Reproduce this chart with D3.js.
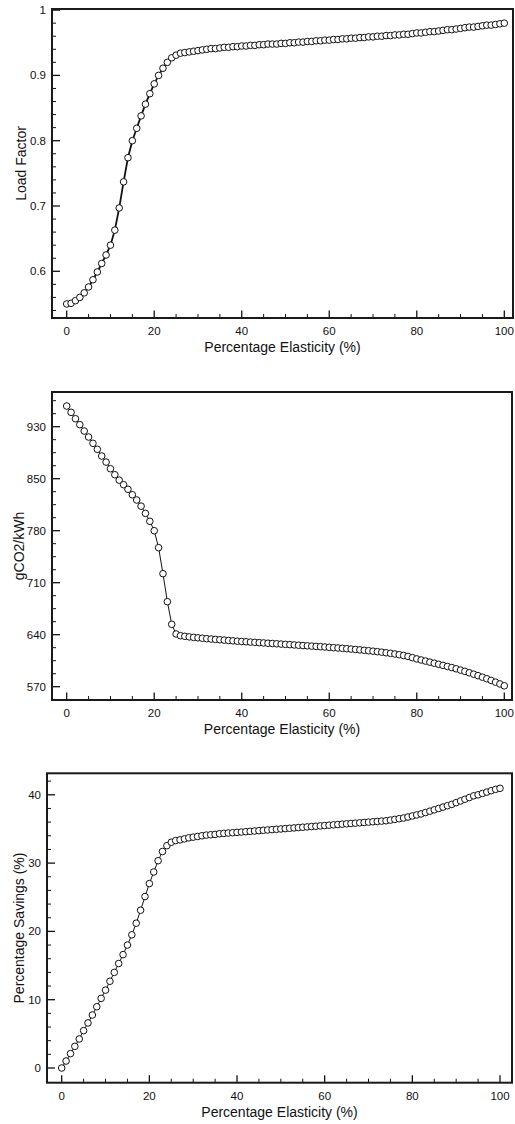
<!DOCTYPE html>
<html lang="en"><head>
<meta charset="utf-8">
<title>Elasticity charts</title>
<script src="https://cdn.jsdelivr.net/npm/d3@7"></script>
<style>
  body { margin: 0; background: #fff; }
  text { font-family: Helvetica, Arial, "Liberation Sans", sans-serif; fill: #111; }
</style>
</head>
<body>
<script type="text/javascript">

var width = 515;
var height = 1124;

// percentage elasticity (x axis, every panel)
var elasticity = [
  0, 1, 2, 3, 4, 5, 6, 7, 8, 9,
  10, 11, 12, 13, 14, 15, 16, 17, 18, 19,
  20, 21, 22, 23, 24, 25, 26, 27, 28, 29,
  30, 31, 32, 33, 34, 35, 36, 37, 38, 39,
  40, 41, 42, 43, 44, 45, 46, 47, 48, 49,
  50, 51, 52, 53, 54, 55, 56, 57, 58, 59,
  60, 61, 62, 63, 64, 65, 66, 67, 68, 69,
  70, 71, 72, 73, 74, 75, 76, 77, 78, 79,
  80, 81, 82, 83, 84, 85, 86, 87, 88, 89,
  90, 91, 92, 93, 94, 95, 96, 97, 98, 99,
  100
];

var loadFactor = [
  0.550, 0.551, 0.555, 0.560, 0.567, 0.576, 0.587, 0.599, 0.612, 0.625,
  0.640, 0.663, 0.697, 0.737, 0.774, 0.800, 0.819, 0.838, 0.856, 0.872,
  0.887, 0.900, 0.911, 0.920, 0.927, 0.931, 0.934, 0.935, 0.936, 0.937,
  0.938, 0.939, 0.940, 0.941, 0.941, 0.942, 0.943, 0.943, 0.944, 0.944,
  0.945, 0.945, 0.946, 0.946, 0.947, 0.947, 0.948, 0.948, 0.948, 0.949,
  0.949, 0.950, 0.950, 0.951, 0.951, 0.952, 0.952, 0.953, 0.953, 0.954,
  0.954, 0.955, 0.955, 0.956, 0.956, 0.957, 0.957, 0.958, 0.958, 0.959,
  0.959, 0.960, 0.960, 0.961, 0.961, 0.962, 0.962, 0.963, 0.963, 0.964,
  0.965, 0.965, 0.966, 0.967, 0.967, 0.968, 0.969, 0.970, 0.970, 0.971,
  0.972, 0.973, 0.974, 0.974, 0.975, 0.976, 0.977, 0.977, 0.978, 0.979,
  0.980
];

var co2 = [
  958.6, 949.9, 941.0, 932.8, 924.0, 915.7, 907.0, 898.7, 889.4, 881.0,
  871.8, 863.5, 856.0, 849.7, 843.3, 835.8, 828.5, 820.0, 810.0, 799.0,
  786.0, 762.5, 726.5, 687.7, 656.4, 643.0, 640.6, 639.8, 639.0, 638.3,
  637.7, 637.1, 636.5, 636.0, 635.5, 635.0, 634.5, 634.0, 633.5, 633.0,
  632.6, 632.2, 631.8, 631.4, 631.0, 630.6, 630.2, 629.8, 629.4, 629.0,
  628.6, 628.2, 627.8, 627.4, 627.0, 626.6, 626.2, 625.8, 625.4, 625.0,
  624.5, 624.0, 623.6, 623.1, 622.6, 622.1, 621.6, 621.0, 620.4, 619.8,
  619.2, 618.5, 617.8, 617.0, 616.2, 615.3, 614.3, 613.2, 611.9, 610.2,
  608.5, 607.0, 605.5, 604.0, 602.5, 601.0, 599.5, 598.0, 596.5, 594.8,
  593.0, 591.2, 589.3, 587.3, 585.3, 583.2, 581.0, 578.7, 576.3, 573.8,
  571.2
];

var savings = [
  0.00, 1.02, 2.10, 3.17, 4.25, 5.47, 6.60, 7.76, 8.97, 10.2,
  11.4, 12.7, 14.0, 15.3, 16.6, 18.0, 19.5, 21.2, 23.1, 25.1,
  27.0, 28.7, 30.35, 31.7, 32.55, 33.05, 33.3, 33.4, 33.55, 33.7,
  33.8, 33.9, 34.0, 34.1, 34.15, 34.2, 34.3, 34.35, 34.4, 34.45,
  34.5, 34.55, 34.6, 34.65, 34.7, 34.75, 34.8, 34.85, 34.9, 34.95,
  35.0, 35.05, 35.1, 35.15, 35.2, 35.25, 35.3, 35.35, 35.4, 35.45,
  35.5, 35.55, 35.6, 35.65, 35.7, 35.75, 35.8, 35.85, 35.9, 35.95,
  36.0, 36.05, 36.1, 36.15, 36.2, 36.3, 36.4, 36.5, 36.6, 36.75,
  36.9, 37.05, 37.2, 37.4, 37.6, 37.8, 38.0, 38.2, 38.4, 38.6,
  38.85, 39.1, 39.35, 39.6, 39.85, 40.0, 40.2, 40.4, 40.6, 40.8,
  40.95
];

var xTicks = [0, 20, 40, 60, 80, 100];
var loadTicks = [0.6, 0.7, 0.8, 0.9, 1];
var loadTickLabels = ["0.6", "0.7", "0.8", "0.9", "1"];
var co2Ticks = [570, 642, 714, 786, 858, 930];
var co2TickLabels = ["570", "640", "710", "780", "850", "930"];
var savingsTicks = [0, 10, 20, 30, 40];
var savingsTickLabels = ["0", "10", "20", "30", "40"];

var xTitle = "Percentage Elasticity (%)";

var svg = d3.select("body").append("svg")
            .attr("width", width)
            .attr("height", height);

var panels = [
  {
    values: loadFactor, yTitle: "Load Factor",
    frame: {left: 52, right: 513, top: 9, bottom: 318},
    xRange: [66.7, 504.3],
    yDomain: [0.6, 1], yRange: [271.3, 10.1],
    yTicks: loadTicks, yLabels: loadTickLabels,
    yMinor: d3.range(0.54, 1.001, 0.02),
    titleX: 25.5, lineWidth: 1.8
  },
  {
    values: co2, yTitle: "gCO2/kWh",
    frame: {left: 52, right: 512, top: 392, bottom: 700},
    xRange: [66.7, 504.3],
    yDomain: [570, 930], yRange: [686.7, 426.7],
    yTicks: co2Ticks, yLabels: co2TickLabels,
    yMinor: d3.range(552, 980, 18),
    titleX: 23.5, lineWidth: 1
  },
  {
    values: savings, yTitle: "Percentage Savings (%)",
    frame: {left: 47, right: 512, top: 773.3, bottom: 1082.7},
    xRange: [61.7, 500],
    yDomain: [0, 40], yRange: [1068, 794.8],
    yTicks: savingsTicks, yLabels: savingsTickLabels,
    yMinor: d3.range(-2, 43, 2),
    titleX: 24, lineWidth: 1
  }
];

panels.forEach(drawPanel);

function drawPanel(p) {
    var f = p.frame;
    var x = d3.scaleLinear().domain([0, 100]).range(p.xRange);
    var y = d3.scaleLinear().domain(p.yDomain).range(p.yRange);
    var g = svg.append("g");

    // minor + major ticks, pointing into the plot
    var xMinor = d3.range(-0, 101, 5).filter((v) => xTicks.indexOf(v) < 0);
    g.selectAll(".xminor").data(xMinor).enter().append("line")
        .attr("x1", (d) => x(d)).attr("x2", (d) => x(d))
        .attr("y1", f.bottom).attr("y2", f.bottom - 4)
        .attr("stroke", "#111").attr("stroke-width", 1);
    g.selectAll(".xmajor").data(xTicks).enter().append("line")
        .attr("x1", (d) => x(d)).attr("x2", (d) => x(d))
        .attr("y1", f.bottom).attr("y2", f.bottom - 7.5)
        .attr("stroke", "#111").attr("stroke-width", 1.3);
    g.selectAll(".xlabel").data(xTicks).enter().append("text")
        .attr("x", (d) => x(d)).attr("y", f.bottom + 17)
        .attr("text-anchor", "middle")
        .style("font-size", "11.5px")
        .text((d) => d);

    var yMinor = p.yMinor.filter((v) => {
        var py = y(v);
        return py > f.top + 2 && py < f.bottom - 2 &&
            !p.yTicks.some((t) => Math.abs(y(t) - py) < 1);
    });
    g.selectAll(".yminor").data(yMinor).enter().append("line")
        .attr("x1", f.left).attr("x2", f.left + 4)
        .attr("y1", (d) => y(d)).attr("y2", (d) => y(d))
        .attr("stroke", "#111").attr("stroke-width", 1);
    g.selectAll(".ymajor").data(p.yTicks).enter().append("line")
        .attr("x1", f.left).attr("x2", f.left + 8)
        .attr("y1", (d) => y(d)).attr("y2", (d) => y(d))
        .attr("stroke", "#111").attr("stroke-width", 1.3);
    g.selectAll(".ylabel").data(p.yTicks).enter().append("text")
        .attr("x", f.left - 6).attr("y", (d) => y(d))
        .attr("dy", "0.35em")
        .attr("text-anchor", "end")
        .style("font-size", "11.5px")
        .text((d, i) => p.yLabels[i]);

    // frame
    g.append("rect")
        .attr("x", f.left).attr("y", f.top)
        .attr("width", f.right - f.left).attr("height", f.bottom - f.top)
        .attr("fill", "none")
        .attr("stroke", "#1a1a1a")
        .attr("stroke-width", 2);

    // titles
    g.append("text")
        .attr("x", (f.left + f.right) / 2)
        .attr("y", f.bottom + 34)
        .attr("text-anchor", "middle")
        .style("font-size", "14px")
        .text(xTitle);
    g.append("text")
        .attr("transform", "translate(" + p.titleX + "," + ((f.top + f.bottom) / 2) + ") rotate(-90)")
        .attr("text-anchor", "middle")
        .style("font-size", "14px")
        .text(p.yTitle);

    var pts = elasticity.map((e, i) => [e, p.values[i]]);
    var line = d3.line().x((d) => x(d[0])).y((d) => y(d[1]));
    g.append("path")
        .attr("d", line(pts))
        .attr("fill", "none")
        .attr("stroke", "#111")
        .attr("stroke-width", p.lineWidth);
    g.selectAll(".dot").data(pts).enter().append("circle")
        .attr("cx", (d) => x(d[0]))
        .attr("cy", (d) => y(d[1]))
        .attr("r", 3.3)
        .attr("fill", "#fff")
        .attr("stroke", "#111")
        .attr("stroke-width", 1);
}

</script>
</body></html>
